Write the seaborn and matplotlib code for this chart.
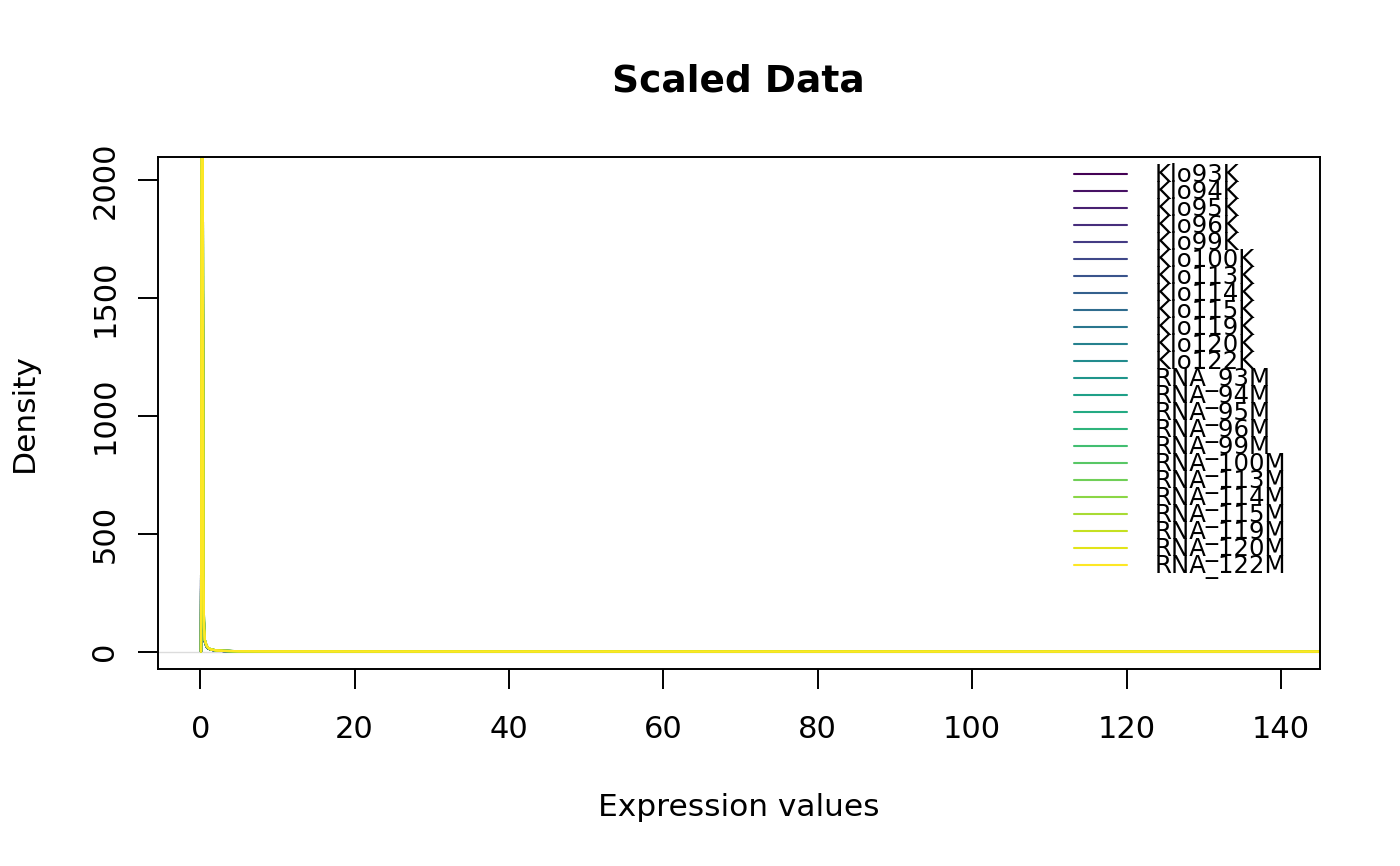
import numpy as np
import pandas as pd
import matplotlib
matplotlib.use("Agg")
import matplotlib.pyplot as plt
import seaborn as sns

# sample names (legend order)
samples = ["Klo93K", "Klo94K", "Klo95K", "Klo96K", "Klo99K", "Klo100K",
           "Klo113K", "Klo114K", "Klo115K", "Klo119K", "Klo120K", "Klo122K",
           "RNA_93M", "RNA_94M", "RNA_95M", "RNA_96M", "RNA_99M", "RNA_100M",
           "RNA_113M", "RNA_114M", "RNA_115M", "RNA_119M", "RNA_120M", "RNA_122M"]

# density curves (spike near 0, long flat tail)
x_grid = [0.10, 0.15, 0.20, 0.25, 0.30, 0.35, 0.40, 0.50, 0.60, 0.80, 1.0,
          1.3, 1.7, 2.2, 3.0, 5.0, 10, 30, 60, 100, 139.5, 150]
klo_density = [0, 1100, 2600, 3300, 2800, 1400, 260, 85, 42, 22, 14,
               9, 6, 4, 2.5, 1.2, 0.5, 0.15, 0.05, 0.02, 0.01, 0.01]
rna_density = [0, 900, 2400, 3500, 3000, 1700, 320, 95, 48, 26, 16,
               10, 7, 4.5, 2.8, 1.3, 0.6, 0.2, 0.06, 0.03, 0.02, 0.02]

rows = []
for s in samples:
    dens = klo_density if s.startswith("Klo") else rna_density
    for x, d in zip(x_grid, dens):
        rows.append((s, x, d))
df = pd.DataFrame(rows, columns=["sample", "x", "density"])

colors = [matplotlib.colors.to_hex(c) for c in plt.cm.viridis(np.linspace(0, 1, len(samples)))]

sns.set_style("ticks")
plt.rcParams["font.family"] = ["DejaVu Sans"]
plt.rcParams["text.color"] = "black"
plt.rcParams["axes.labelcolor"] = "black"
plt.rcParams["xtick.color"] = "black"
plt.rcParams["ytick.color"] = "black"

W, H = 1400, 866
fig = plt.figure(figsize=(14, 8.66), dpi=100)
ax = fig.add_axes([158 / W, 1 - 669 / H, (1320 - 158) / W, (669 - 157) / H])

ax.axhline(0, color="#dcdcdc", lw=1, zorder=0)
sns.lineplot(data=df, x="x", y="density", hue="sample", hue_order=samples,
             palette=colors, estimator=None, sort=False, linewidth=1.6,
             legend=False, ax=ax)

ax.set_xlim(-5.47, 145.06)
ax.set_ylim(-74, 2097)
ax.set_xticks([0, 20, 40, 60, 80, 100, 120, 140])
ax.set_yticks([0, 500, 1000, 1500, 2000])
ax.set_xlabel("")
ax.set_ylabel("")
for sp in ax.spines.values():
    sp.set_visible(True)
    sp.set_linewidth(1.4)
    sp.set_color("black")
ax.tick_params(axis="both", length=14.4, width=1.4, labelsize=22,
               direction="out", colors="black")
ax.tick_params(axis="x", pad=19)
ax.tick_params(axis="y", pad=13.5)
for lab in ax.get_yticklabels():
    lab.set_rotation(90)
    lab.set_va("center")

# titles / labels
fig.text(738 / W, 1 - 91.7 / H, "Scaled Data", ha="center", va="baseline",
         fontsize=27, fontweight="bold", color="black")
fig.text(739 / W, 1 - 816 / H, "Expression values", ha="center", va="baseline",
         fontsize=22.5, color="black")
fig.text(24.5 / W, 1 - 412.5 / H, "Density", ha="center", va="center",
         rotation=90, fontsize=22.5, color="black")

# legend (no box, tightly packed rows like base R)
for i, (s, c) in enumerate(zip(samples, colors)):
    yl = 174 + 17 * i
    fig.add_artist(plt.Line2D([1074 / W, 1127 / W], [1 - yl / H, 1 - yl / H],
                              color=c, lw=1.5, transform=fig.transFigure))
    fig.text(1155 / W, 1 - (yl + 8) / H, s, ha="left", va="baseline",
             fontsize=17.6, color="black")

fig.savefig("out.png", dpi=100)
